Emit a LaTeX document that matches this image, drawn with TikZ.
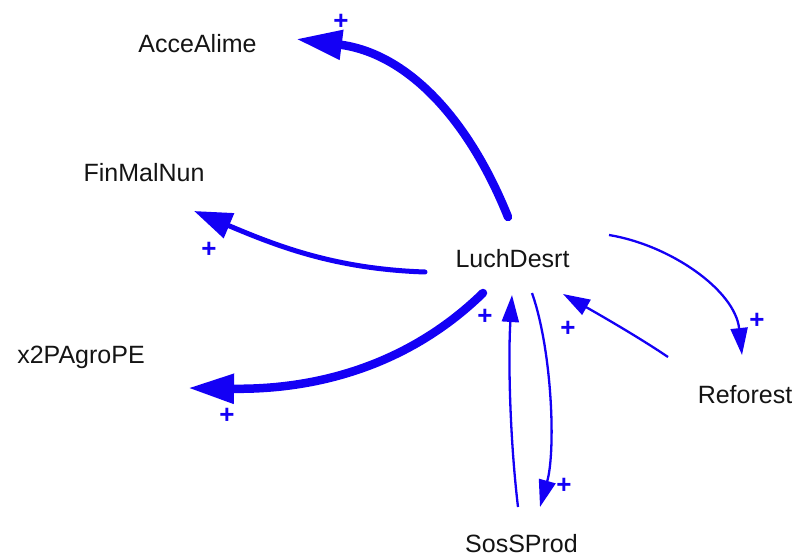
\documentclass[tikz,border=0pt]{standalone}
\usepackage{fontspec}
\setmainfont{Liberation Sans}
\usetikzlibrary{arrows.meta}
\definecolor{linkblue}{RGB}{20,0,245}
\definecolor{txt}{RGB}{20,20,20}
\tikzset{
  var/.style={anchor=base, inner sep=0pt, text=txt, font=\fontsize{25}{28}\selectfont},
  pol/.style={text=linkblue, inner sep=0pt, font=\fontsize{26}{28}\selectfont\bfseries},
  thin link/.style={draw=linkblue, line width=2.3pt, -{Triangle[length=27pt,width=17pt]}},
  mid link/.style={draw=linkblue, line width=5pt, line cap=round, -{Triangle[length=38pt,width=26pt]}},
  thick link/.style={draw=linkblue, line width=8.5pt, line cap=round, -{Triangle[length=46pt,width=28pt]}},
}
\begin{document}
\begin{tikzpicture}[x=1pt,y=-1pt]
\useasboundingbox (0,0) rectangle (800,556);
% variables
\node[var] (acce) at (197.5,53) {AcceAlime};
\node[var] (finm) at (144,182) {FinMalNun};
\node[var] (luch) at (512.5,267) {LuchDesrt};
\node[var] (x2pa) at (81,363) {x2PAgroPE};
\node[var] (refo) at (745,403) {Reforest};
\node[var] (soss) at (521.5,552) {SosSProd};
% connector ends
\coordinate (luchA) at (508,217);
\coordinate (acceIn) at (296,39);
\coordinate (luchF) at (425,272);
\coordinate (finmIn) at (194,211);
\coordinate (luchX) at (483,293);
\coordinate (x2paIn) at (188,388);
\coordinate (sossOut) at (518,507);
\coordinate (luchInS) at (512,295);
\coordinate (luchS) at (532,293);
\coordinate (sossIn) at (540,507);
\coordinate (refoOut) at (668,357);
\coordinate (luchInR) at (563,294);
\coordinate (luchR) at (609,235);
\coordinate (refoIn) at (742,355);
% links
\draw[thick link] (luchA) .. controls (467,115) and (405,53) .. (acceIn);
\draw[mid link] (luchF) .. controls (335,269) and (277,246) .. (finmIn);
\draw[thick link] (luchX) .. controls (404,370) and (308,390) .. (x2paIn);
\draw[thin link] (sossOut) .. controls (510,440) and (508,360) .. (luchInS);
\draw[thin link] (luchS) .. controls (552,350) and (556,450) .. (sossIn);
\draw[thin link] (refoOut) .. controls (640,338) and (600,315) .. (luchInR);
\draw[thin link] (luchR) .. controls (670,245) and (735,290) .. (refoIn);
% polarities
\node[pol] (p1) at (341,22) {+};
\node[pol] (p2) at (209,250) {+};
\node[pol] (p3) at (227,416) {+};
\node[pol] (p4) at (485,317) {+};
\node[pol] (p5) at (564,486) {+};
\node[pol] (p6) at (568,329) {+};
\node[pol] (p7) at (757,321) {+};
\end{tikzpicture}
\end{document}
